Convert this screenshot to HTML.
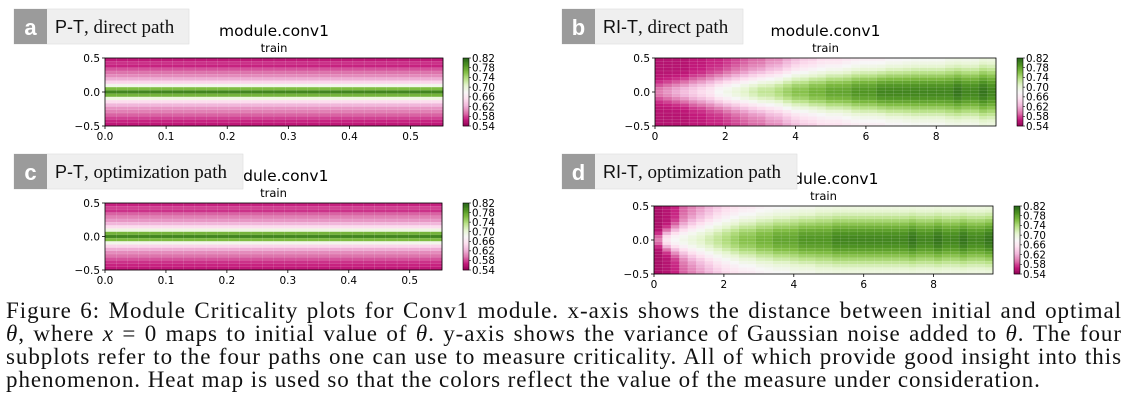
<!DOCTYPE html>
<html><head><meta charset="utf-8">
<style>
body{margin:0;background:#fff;width:1130px;height:419px;overflow:hidden;position:relative;font-family:"Liberation Serif",serif}
svg{position:absolute;left:0;top:0}
.cap{position:absolute;left:6px;width:1116px;font-size:23px;letter-spacing:0.95px;line-height:23px;color:#111;text-align:justify;text-align-last:justify;white-space:nowrap}
.cap.last{text-align-last:left}
</style></head>
<body>
<svg id="fig" width="1130" height="419" xmlns="http://www.w3.org/2000/svg"></svg>
<div class="cap" style="top:299px">Figure 6: Module Criticality plots for Conv1 module. x-axis shows the distance between initial and optimal</div>
<div class="cap" style="top:322px"><i>θ</i>, where <i>x</i> = 0 maps to initial value of <i>θ</i>. y-axis shows the variance of Gaussian noise added to <i>θ</i>. The four</div>
<div class="cap" style="top:345px">subplots refer to the four paths one can use to measure criticality. All of which provide good insight into this</div>
<div class="cap last" style="top:368px">phenomenon. Heat map is used so that the colors reflect the value of the measure under consideration.</div>
<script>
// ---- data ----
const cbTicks = [0.54,0.58,0.62,0.66,0.70,0.74,0.78,0.82];
const yTicks = [0.5,0.0,-0.5];
const xTicksPT = [0.0,0.1,0.2,0.3,0.4,0.5];
const xTicksRI = [0,2,4,6,8];
// P-T row profiles (top y=0.5 to bottom y=-0.5), 21 rows
const rowsA = [0.565,0.575,0.57,0.585,0.595,0.605,0.62,0.645,0.69,0.765,0.80,0.77,0.695,0.65,0.625,0.61,0.60,0.59,0.58,0.57,0.565];
const rowsC = [0.57,0.58,0.575,0.59,0.60,0.61,0.625,0.65,0.695,0.77,0.80,0.765,0.69,0.645,0.62,0.605,0.595,0.585,0.575,0.57,0.565];
// RI-T per column (40 columns): center value, edge value, band half-width
const centerB = [0.60,0.61,0.62,0.63,0.64,0.65,0.66,0.68,0.69,0.70,0.71,0.72,0.73,0.73,0.74,0.75,0.76,0.76,0.77,0.77,0.78,0.78,0.78,0.79,0.79,0.79,0.80,0.80,0.80,0.80,0.80,0.80,0.80,0.80,0.80,0.81,0.80,0.80,0.81,0.80];
const edgeB = [0.56,0.56,0.56,0.56,0.565,0.565,0.57,0.57,0.575,0.58,0.585,0.59,0.59,0.60,0.60,0.61,0.62,0.63,0.63,0.64,0.64,0.64,0.645,0.65,0.65,0.65,0.65,0.655,0.655,0.66,0.66,0.66,0.66,0.66,0.665,0.665,0.665,0.665,0.67,0.67];
const widthB = [0.14,0.15,0.16,0.17,0.18,0.19,0.20,0.21,0.22,0.23,0.24,0.25,0.26,0.27,0.28,0.29,0.30,0.30,0.31,0.31,0.32,0.32,0.33,0.33,0.34,0.34,0.34,0.35,0.35,0.35,0.36,0.36,0.36,0.36,0.37,0.37,0.37,0.37,0.38,0.38];
const centerD = [0.60,0.66,0.68,0.69,0.70,0.71,0.72,0.73,0.74,0.75,0.76,0.76,0.77,0.77,0.78,0.78,0.78,0.79,0.79,0.79,0.79,0.80,0.80,0.80,0.80,0.80,0.80,0.80,0.80,0.80,0.81,0.80,0.80,0.81,0.80,0.80,0.81,0.80,0.80,0.81];
const edgeD = [0.555,0.56,0.57,0.59,0.60,0.61,0.62,0.63,0.64,0.645,0.65,0.65,0.655,0.66,0.66,0.66,0.665,0.665,0.665,0.67,0.67,0.67,0.67,0.67,0.67,0.67,0.67,0.67,0.67,0.67,0.67,0.67,0.67,0.67,0.67,0.67,0.67,0.67,0.67,0.67];
const widthD = [0.10,0.14,0.18,0.21,0.24,0.26,0.28,0.30,0.31,0.32,0.33,0.34,0.35,0.35,0.36,0.36,0.37,0.37,0.37,0.38,0.38,0.38,0.38,0.38,0.38,0.38,0.38,0.38,0.38,0.38,0.38,0.38,0.38,0.38,0.38,0.38,0.38,0.38,0.38,0.38];

const NS="http://www.w3.org/2000/svg";
const svg=document.getElementById('fig');
function mk(tag,attrs,parent){const e=document.createElementNS(NS,tag);for(const k in attrs)e.setAttribute(k,attrs[k]);(parent||svg).appendChild(e);return e;}
const stops=['#8e0152','#c51b7d','#de77ae','#f1b6da','#fde0ef','#f7f7f7','#e6f5d0','#b8e186','#7fbc41','#4d9221','#276419'];
function hex(h){return [1,3,5].map(i=>parseInt(h.substr(i,2),16));}
function cmap(v){let t=(v-0.54)/0.28;t=Math.max(0,Math.min(1,t))*10;const i=Math.min(9,Math.floor(t));const f=t-i;const a=hex(stops[i]),b=hex(stops[i+1]);return 'rgb('+a.map((c,k)=>Math.round(c+(b[k]-c)*f)).join(',')+')';}

function panel(p){
  const g=mk('g',{});
  
  
  const xs=v=>p.x0+(v/p.xmax)*(p.x1-p.x0);
  const ys=v=>p.y0+(0.5-v)*(p.y1-p.y0);
  const nr=21, nc=p.nc;
  const cw=p.xmax/nc, rh=1/nr;
  for(let c=0;c<nc;c++){for(let r=0;r<nr;r++){
    const yv=0.5-(r+0.5)*rh;
    let v;
    if(p.rows) v=p.rows[r];
    else v=p.edge[c]+(p.center[c]-p.edge[c])*Math.exp(-Math.pow(yv/p.width[c],2));
    const x=xs(c*cw), y=ys(0.5-r*rh);
    const cell=mk('rect',{x:x,y:y,width:xs((c+1)*cw)-x+0.3,height:ys(0.5-(r+1)*rh)-y+0.3,fill:cmap(v),stroke:'rgba(255,255,255,0.25)','stroke-width':0.4},g);
    
    
  }}
  const fr=mk('rect',{x:p.x0,y:p.y0,width:p.x1-p.x0,height:p.y1-p.y0,fill:'none',stroke:'#000','stroke-width':0.8},g);
  
  
  yTicks.forEach(t=>{mk('line',{x1:p.x0-3,x2:p.x0,y1:ys(t),y2:ys(t),stroke:'#000','stroke-width':0.8},g);
    const tx=mk('text',{x:p.x0-5,y:ys(t)+4,'font-size':10.5,'text-anchor':'end','font-family':'DejaVu Sans, sans-serif'},g);
    tx.textContent=(t<0?'−':'')+Math.abs(t).toFixed(1);
    
    });
  p.xticks.forEach(t=>{mk('line',{x1:xs(t),x2:xs(t),y1:p.y1,y2:p.y1+3,stroke:'#000','stroke-width':0.8},g);
    const tx=mk('text',{x:xs(t),y:p.y1+14,'font-size':10.5,'text-anchor':'middle','font-family':'DejaVu Sans, sans-serif'},g);
    tx.textContent=p.xfmt(t);
    
    });
  // colorbar
  const cbH=p.y1-p.y0;
  for(let i=0;i<60;i++){const v0=0.54+0.28*i/60;mk('rect',{x:p.cb,y:p.y1-cbH*(i+1)/60,width:6,height:cbH/60+0.3,fill:cmap(v0+0.28/120)},g);}
  const cbf=mk('rect',{x:p.cb,y:p.y0,width:6,height:cbH,fill:'none',stroke:'#000','stroke-width':0.6},g);
  
  
  cbTicks.forEach(t=>{const y=p.y1-cbH*(t-0.54)/0.28;mk('line',{x1:p.cb+6,x2:p.cb+8,y1:y,y2:y,stroke:'#000','stroke-width':0.6},g);
    const tx=mk('text',{x:p.cb+9,y:y+3.8,'font-size':10.3,'font-family':'DejaVu Sans, sans-serif'},g);
    tx.textContent=t.toFixed(2);
    
    });
  const ti=mk('text',{x:(p.x0+p.x1)/2,y:p.y0-22,'font-size':15.5,'text-anchor':'middle','font-family':'DejaVu Sans, sans-serif'},g);
  ti.textContent='module.conv1';
  
  
  const tr=mk('text',{x:(p.x0+p.x1)/2,y:p.y0-6,'font-size':11.5,'text-anchor':'middle','font-family':'DejaVu Sans, sans-serif'},g);
  tr.textContent='train';
  
  
  // label box
  const lb=mk('g',{},g);
  
  
  mk('rect',{x:p.lx,y:p.ly,width:p.lw,height:35,fill:'#efefef',stroke:'#ddd','stroke-width':0.6},lb);
  mk('rect',{x:p.lx,y:p.ly,width:33,height:35,fill:'#9b9b9b'},lb);
  const l1=mk('text',{x:p.lx+16.5,y:p.ly+26,'font-size':22,'font-weight':'bold','text-anchor':'middle',fill:'#fff','font-family':'Liberation Sans, sans-serif'},lb);
  l1.textContent=p.letter;
  const l2=mk('text',{x:p.lx+41,y:p.ly+24,'font-size':19,fill:'#111','font-family':'Liberation Serif, serif'},lb);
  const s1=mk('tspan',{'font-family':'Liberation Sans, sans-serif','font-size':18},l2);s1.textContent=p.l1;
  const s2=mk('tspan',{},l2);s2.textContent=p.l2;
}
const fPT=t=>t.toFixed(1), fRI=t=>String(t);
panel({name:'panel-a',letter:'a',l1:'P-T',l2:', direct path',lx:14,ly:9,lw:175,x0:105,x1:443,y0:58,y1:126,xmax:0.553,nc:30,rows:rowsA,xticks:xTicksPT,xfmt:fPT,cb:463});
panel({name:'panel-b',letter:'b',l1:'RI-T',l2:', direct path',lx:562,ly:9,lw:181,x0:655,x1:996,y0:58,y1:126,xmax:9.7,nc:40,center:centerB,edge:edgeB,width:widthB,xticks:xTicksRI,xfmt:fRI,cb:1017});
panel({name:'panel-c',letter:'c',l1:'P-T',l2:', optimization path',lx:14,ly:154,lw:229,x0:105,x1:442,y0:203,y1:270,xmax:0.553,nc:30,rows:rowsC,xticks:xTicksPT,xfmt:fPT,cb:463});
panel({name:'panel-d',letter:'d',l1:'RI-T',l2:', optimization path',lx:562,ly:154,lw:235,x0:654,x1:993,y0:206,y1:274,xmax:9.7,nc:40,center:centerD,edge:edgeD,width:widthD,xticks:xTicksRI,xfmt:fRI,cb:1014});
</script>
</body></html>
